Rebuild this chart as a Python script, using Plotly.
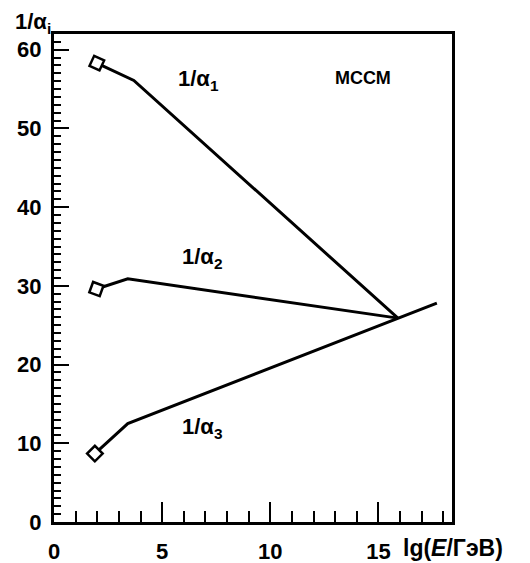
import plotly.graph_objects as go

# data (lg(E/GeV), 1/alpha_i)
x_a1 = [1.98, 3.69, 15.9]
y_a1 = [58.3, 56.1, 25.9]
x_a2 = [1.96, 3.41, 15.9]
y_a2 = [29.6, 30.9, 25.9]
x_a3 = [1.89, 3.41, 17.7]
y_a3 = [8.7, 12.5, 27.8]
marker_angles = [25, 20, 45]
x_ticks = [0, 5, 10, 15]
y_ticks = [0, 10, 20, 30, 40, 50, 60]

FONT = "Liberation Sans, Arial, sans-serif"

# the page body has an 8px margin; plot area in window pixels: x 54..452, y 34..522
L, R, T, B = 54, 452, 34, 522


def px(xw, yw):
    return (xw - L) / (R - L), (B - yw) / (B - T)


fig = go.Figure()
for xs, ys, ang in [(x_a1, y_a1, marker_angles[0]), (x_a2, y_a2, marker_angles[1]), (x_a3, y_a3, marker_angles[2])]:
    fig.add_trace(go.Scatter(
        x=xs, y=ys, mode="lines", line=dict(color="black", width=3),
        showlegend=False, hoverinfo="skip"))
    fig.add_trace(go.Scatter(
        x=[xs[0]], y=[ys[0]], mode="markers",
        marker=dict(symbol="square", size=11, color="white", angle=ang,
                    line=dict(color="black", width=2.5)),
        showlegend=False, hoverinfo="skip"))

lab = dict(family=FONT, size=22, color="black", weight="bold")
annots = [
    dict(x=6.7, y=56.1, text="1/α<sub>1</sub>"),
    dict(x=6.85, y=33.6, text="1/α<sub>2</sub>"),
    dict(x=6.85, y=11.9, text="1/α<sub>3</sub>"),
]
for a in annots:
    fig.add_annotation(x=a["x"], y=a["y"], xref="x", yref="y", text=a["text"],
                       showarrow=False, font=lab)
fig.add_annotation(x=14.3, y=56.4, xref="x", yref="y", text="МССМ", showarrow=False,
                   font=dict(family=FONT, size=18, color="black", weight="bold"))

xa, ya = px(33, 23)
fig.add_annotation(x=xa, y=ya, xref="paper", yref="paper", text="1/α<sub>i</sub>",
                   showarrow=False, xanchor="center", yanchor="middle", font=lab)
xa, ya = px(401, 548)
fig.add_annotation(x=xa, y=ya, xref="paper", yref="paper", text="lg(<i>E</i>/ГэВ)",
                   showarrow=False, xanchor="left", yanchor="middle",
                   font=dict(family=FONT, size=23, color="black", weight="bold"))

fig.update_layout(
    width=522, height=555,
    margin=dict(l=L - 8, r=530 - R, t=T - 8, b=563 - B, autoexpand=False),
    plot_bgcolor="white", paper_bgcolor="white",
    font=dict(family=FONT, size=22, color="black", weight="bold"),
    xaxis=dict(range=[0, 18.4], showgrid=False, zeroline=False, automargin=False,
               showline=True, linecolor="black", linewidth=3, mirror=True,
               tickvals=x_ticks, ticktext=[str(v) for v in x_ticks],
               ticks="inside", ticklen=20, tickwidth=2, tickcolor="black",
               minor=dict(dtick=1, ticks="inside", ticklen=11, tickwidth=2, tickcolor="black"),
               ticklabelstandoff=8,
               tickfont=dict(family=FONT, size=22, color="black", weight="bold")),
    yaxis=dict(range=[0, 62], showgrid=False, zeroline=False, automargin=False,
               showline=True, linecolor="black", linewidth=3, mirror=True,
               tickvals=y_ticks, ticktext=[str(v) for v in y_ticks],
               ticks="inside", ticklen=15, tickwidth=2, tickcolor="black",
               minor=dict(dtick=1, ticks="inside", ticklen=7, tickwidth=2, tickcolor="black"),
               ticklabelstandoff=5,
               tickfont=dict(family=FONT, size=22, color="black", weight="bold")),
)

fig.write_html("out.html")
